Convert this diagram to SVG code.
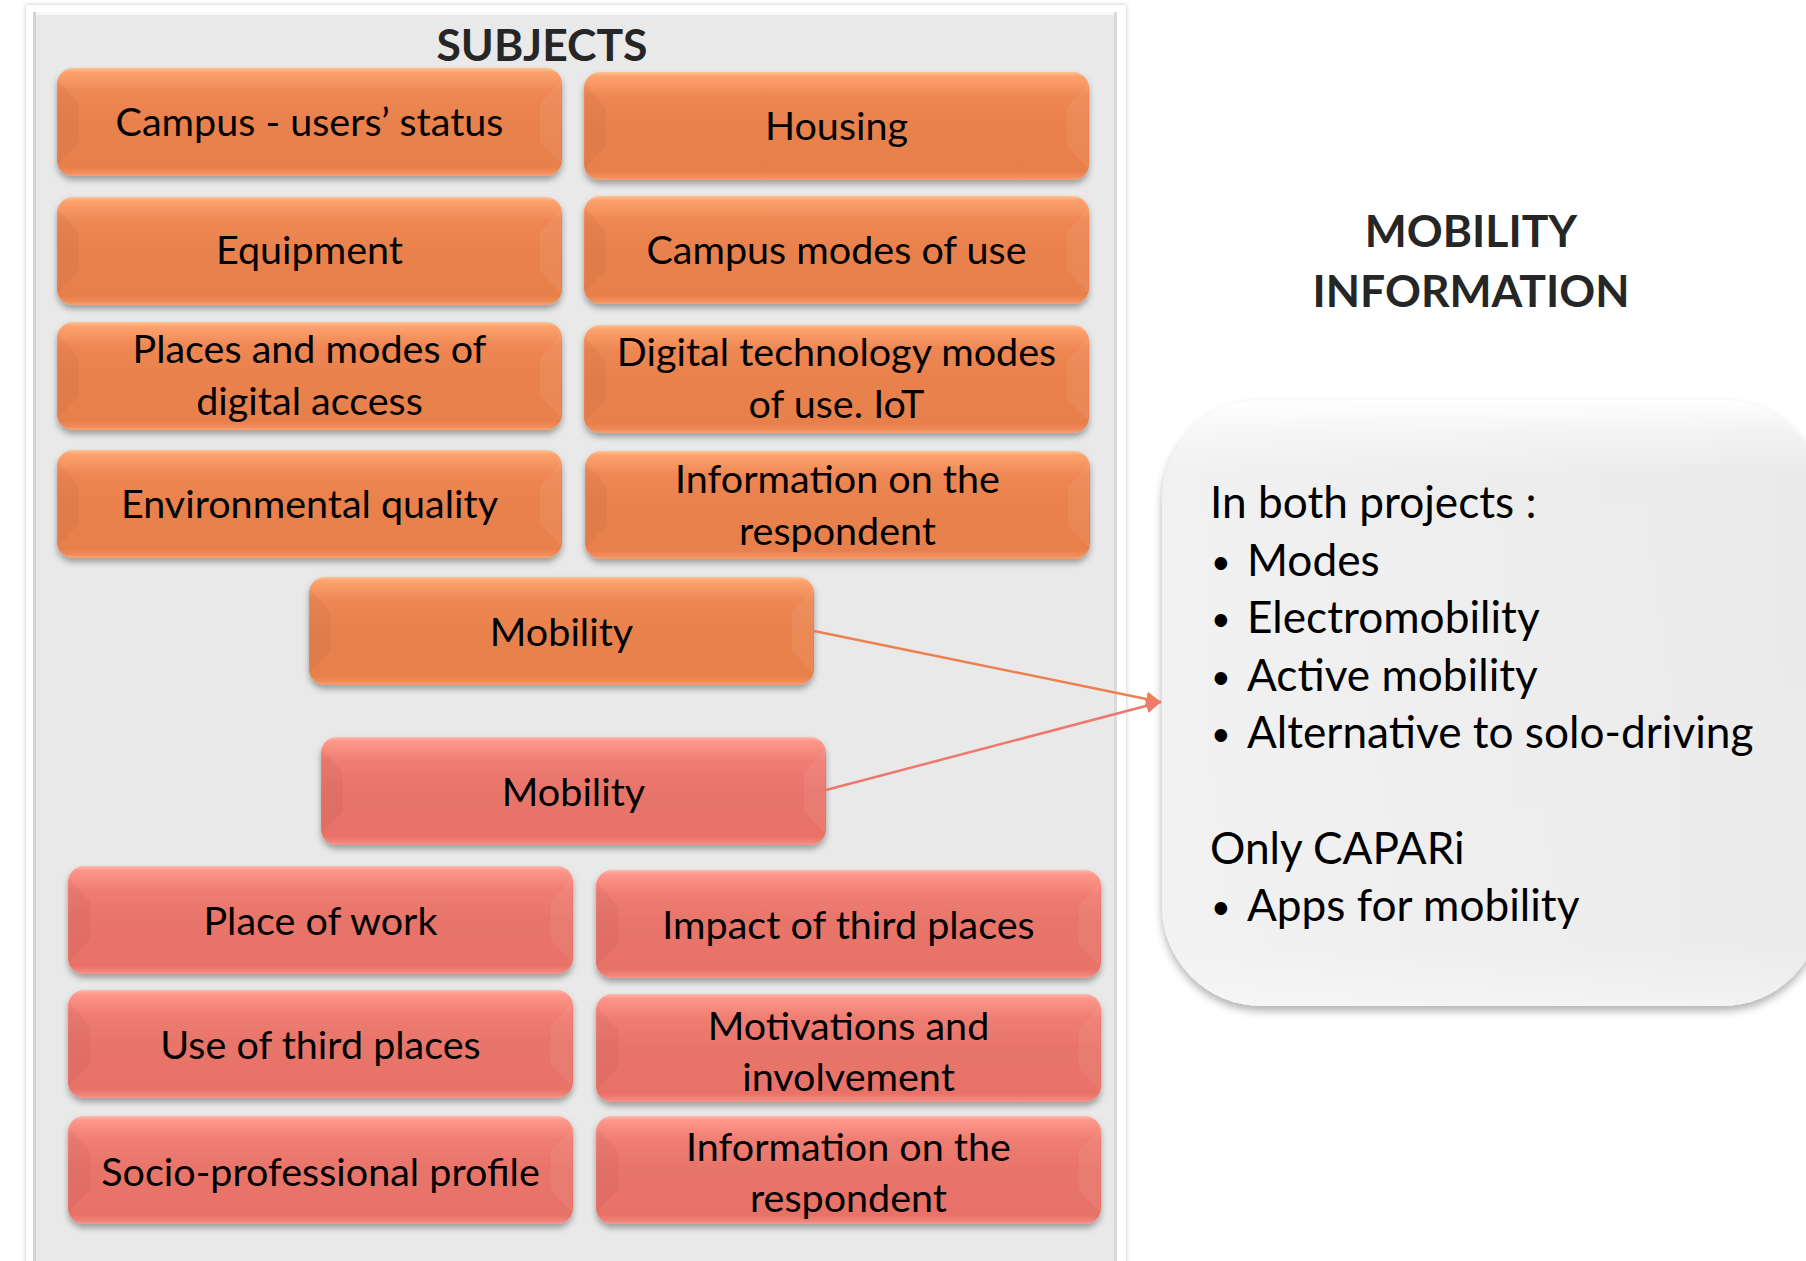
<svg xmlns="http://www.w3.org/2000/svg" xmlns:xlink="http://www.w3.org/1999/xlink" width="1806" height="1261" viewBox="0 0 1806 1261">
<style>
.t{font-family:Lato,"Open Sans","Liberation Sans",sans-serif;font-size:39.5px;fill:#000;text-anchor:middle}
.h{font-family:Lato,"Open Sans","Liberation Sans",sans-serif;font-size:44.5px;font-weight:bold;fill:#262626;text-anchor:middle}
.s{font-family:Lato,"Open Sans","Liberation Sans",sans-serif;font-size:44.2px;fill:#000}
.b{font-family:Lato,"Open Sans","Liberation Sans",sans-serif;font-size:34px;fill:#000}
.box{filter:url(#sh)}
</style>
<defs>
<filter id="sh" x="-5%" y="-10%" width="110%" height="130%">
<feDropShadow dx="0" dy="4" stdDeviation="3" flood-color="#000" flood-opacity="0.33"/>
</filter>
<filter id="sh2" x="-5%" y="-5%" width="110%" height="115%">
<feDropShadow dx="0" dy="5" stdDeviation="4" flood-color="#000" flood-opacity="0.3"/>
</filter>
<filter id="sh3" x="-5%" y="-5%" width="110%" height="110%">
<feDropShadow dx="0" dy="0" stdDeviation="2" flood-color="#000" flood-opacity="0.25"/>
</filter>
<linearGradient id="gO" x1="0" y1="0" x2="0" y2="1">
<stop offset="0" stop-color="#FFC291"/>
<stop offset="0.04" stop-color="#FDA36E"/>
<stop offset="0.22" stop-color="#EE8753"/>
<stop offset="0.5" stop-color="#E9814D"/>
<stop offset="0.92" stop-color="#E8804C"/>
<stop offset="0.97" stop-color="#F18D5A"/>
<stop offset="1" stop-color="#F8A070"/>
</linearGradient>
<linearGradient id="gR" x1="0" y1="0" x2="0" y2="1">
<stop offset="0" stop-color="#FFB8AD"/>
<stop offset="0.04" stop-color="#FF978A"/>
<stop offset="0.22" stop-color="#EF7D72"/>
<stop offset="0.5" stop-color="#E8746A"/>
<stop offset="0.92" stop-color="#E87268"/>
<stop offset="0.97" stop-color="#F08377"/>
<stop offset="1" stop-color="#F6968A"/>
</linearGradient>
<linearGradient id="gP" x1="0" y1="0" x2="0" y2="1">
<stop offset="0" stop-color="#FFFFFF"/>
<stop offset="0.05" stop-color="#F3F3F3"/>
<stop offset="0.12" stop-color="#EAEAEA"/>
<stop offset="0.9" stop-color="#EBEBEB"/>
<stop offset="1" stop-color="#F2F2F2"/>
</linearGradient>
<linearGradient id="gPL" x1="0" y1="0" x2="1" y2="0">
<stop offset="0" stop-color="#FFFFFF" stop-opacity="0.7"/>
<stop offset="1" stop-color="#FFFFFF" stop-opacity="0"/>
</linearGradient>
<g id="bo">
<rect width="505" height="108" rx="16" fill="url(#gO)"/>
<polygon points="1,12 22,36 22,74 1,96" fill="#000" opacity="0.035"/>
<polygon points="504,12 483,36 483,74 504,96" fill="#FFF" opacity="0.06"/>
</g>
<g id="br">
<rect width="505" height="108" rx="16" fill="url(#gR)"/>
<polygon points="1,12 22,36 22,74 1,96" fill="#000" opacity="0.035"/>
<polygon points="504,12 483,36 483,74 504,96" fill="#FFF" opacity="0.06"/>
</g>
<marker id="aO" viewBox="0 0 10 10" refX="10" refY="5" markerWidth="6" markerHeight="6" markerUnits="strokeWidth" orient="auto">
<path d="M0,0 L10,5 L0,10 Z" fill="#EF8158"/>
</marker>
<marker id="aR" viewBox="0 0 10 10" refX="10" refY="5" markerWidth="6" markerHeight="6" markerUnits="strokeWidth" orient="auto">
<path d="M0,0 L10,5 L0,10 Z" fill="#F07B6C"/>
</marker>
</defs>
<rect width="1806" height="1261" fill="#FFFFFF"/>

<g id="subjects-panel">
<rect x="26" y="5" width="1100" height="1270" fill="#FFFFFF" filter="url(#sh3)"/>
<rect x="33" y="12" width="1084" height="1260" fill="#E9E9E9"/>
<rect x="33" y="12" width="1084" height="3" fill="#F8F8F8"/>
<rect x="33" y="12" width="3" height="1260" fill="#D2D2D2"/>
<rect x="1114" y="12" width="3" height="1260" fill="#DADADA"/>
<text class="h" x="542" y="61">SUBJECTS</text>
</g>

<g id="mobility-info">
<rect x="1162" y="400" width="660" height="606" rx="100" fill="url(#gP)" filter="url(#sh2)"/>
<rect x="1162" y="400" width="660" height="606" rx="100" fill="url(#gPL)" opacity="0.5"/>
<text class="h" x="1471" y="247">MOBILITY</text>
<text class="h" x="1471" y="307">INFORMATION</text>
<text class="s" x="1210" y="518">In both projects :</text>
<text class="b" x="1211" y="574">•</text><text class="s" x="1247" y="576">Modes</text>
<text class="b" x="1211" y="631">•</text><text class="s" x="1247" y="633">Electromobility</text>
<text class="b" x="1211" y="689">•</text><text class="s" x="1247" y="691">Active mobility</text>
<text class="b" x="1211" y="746">•</text><text class="s" x="1247" y="748">Alternative to solo-driving</text>
<text class="s" x="1210" y="864">Only CAPARi</text>
<text class="b" x="1211" y="919">•</text><text class="s" x="1247" y="921">Apps for mobility</text>
</g>

<g id="n-campus-status"><use class="box" href="#bo" x="57" y="68"/><text class="t" x="309.5" y="136">Campus - users’ status</text></g>
<g id="n-housing"><use class="box" href="#bo" x="584" y="72"/><text class="t" x="836.5" y="140">Housing</text></g>
<g id="n-equipment"><use class="box" href="#bo" x="57" y="197"/><text class="t" x="309.5" y="264">Equipment</text></g>
<g id="n-campus-modes"><use class="box" href="#bo" x="584" y="196"/><text class="t" x="836.5" y="264">Campus modes of use</text></g>
<g id="n-places-digital"><use class="box" href="#bo" x="57" y="322"/><text class="t" x="309.5" y="363">Places and modes of</text><text class="t" x="309.5" y="415">digital access</text></g>
<g id="n-digital-tech"><use class="box" href="#bo" x="584" y="325"/><text class="t" x="836.5" y="366">Digital technology modes</text><text class="t" x="836.5" y="418">of use. IoT</text></g>
<g id="n-environment"><use class="box" href="#bo" x="57" y="450"/><text class="t" x="309.5" y="518">Environmental quality</text></g>
<g id="n-info-respondent-1"><use class="box" href="#bo" x="585" y="451"/><text class="t" x="837.5" y="493">Information on the</text><text class="t" x="837.5" y="545">respondent</text></g>
<g id="n-mobility-1"><use class="box" href="#bo" x="309" y="577"/><text class="t" x="561.5" y="646">Mobility</text></g>

<g id="n-mobility-2"><use class="box" href="#br" x="321" y="737"/><text class="t" x="573.5" y="806">Mobility</text></g>
<g id="n-place-work"><use class="box" href="#br" x="68" y="866"/><text class="t" x="320.5" y="935">Place of work</text></g>
<g id="n-impact-third"><use class="box" href="#br" x="596" y="870"/><text class="t" x="848.5" y="939">Impact of third places</text></g>
<g id="n-use-third"><use class="box" href="#br" x="68" y="990"/><text class="t" x="320.5" y="1059">Use of third places</text></g>
<g id="n-motivations"><use class="box" href="#br" x="596" y="994"/><text class="t" x="848.5" y="1040">Motivations and</text><text class="t" x="848.5" y="1091">involvement</text></g>
<g id="n-socio-profile"><use class="box" href="#br" x="68" y="1116"/><text class="t" x="320.5" y="1186">Socio-professional profile</text></g>
<g id="n-info-respondent-2"><use class="box" href="#br" x="596" y="1116"/><text class="t" x="848.5" y="1161">Information on the</text><text class="t" x="848.5" y="1212">respondent</text></g>

<g id="connectors" fill="none" stroke-width="2.5">
<line x1="814" y1="631" x2="1161" y2="702" stroke="#EC814F" marker-end="url(#aO)"/>
<line x1="826" y1="790" x2="1161" y2="702" stroke="#EE786B" marker-end="url(#aR)"/>
</g>
</svg>
